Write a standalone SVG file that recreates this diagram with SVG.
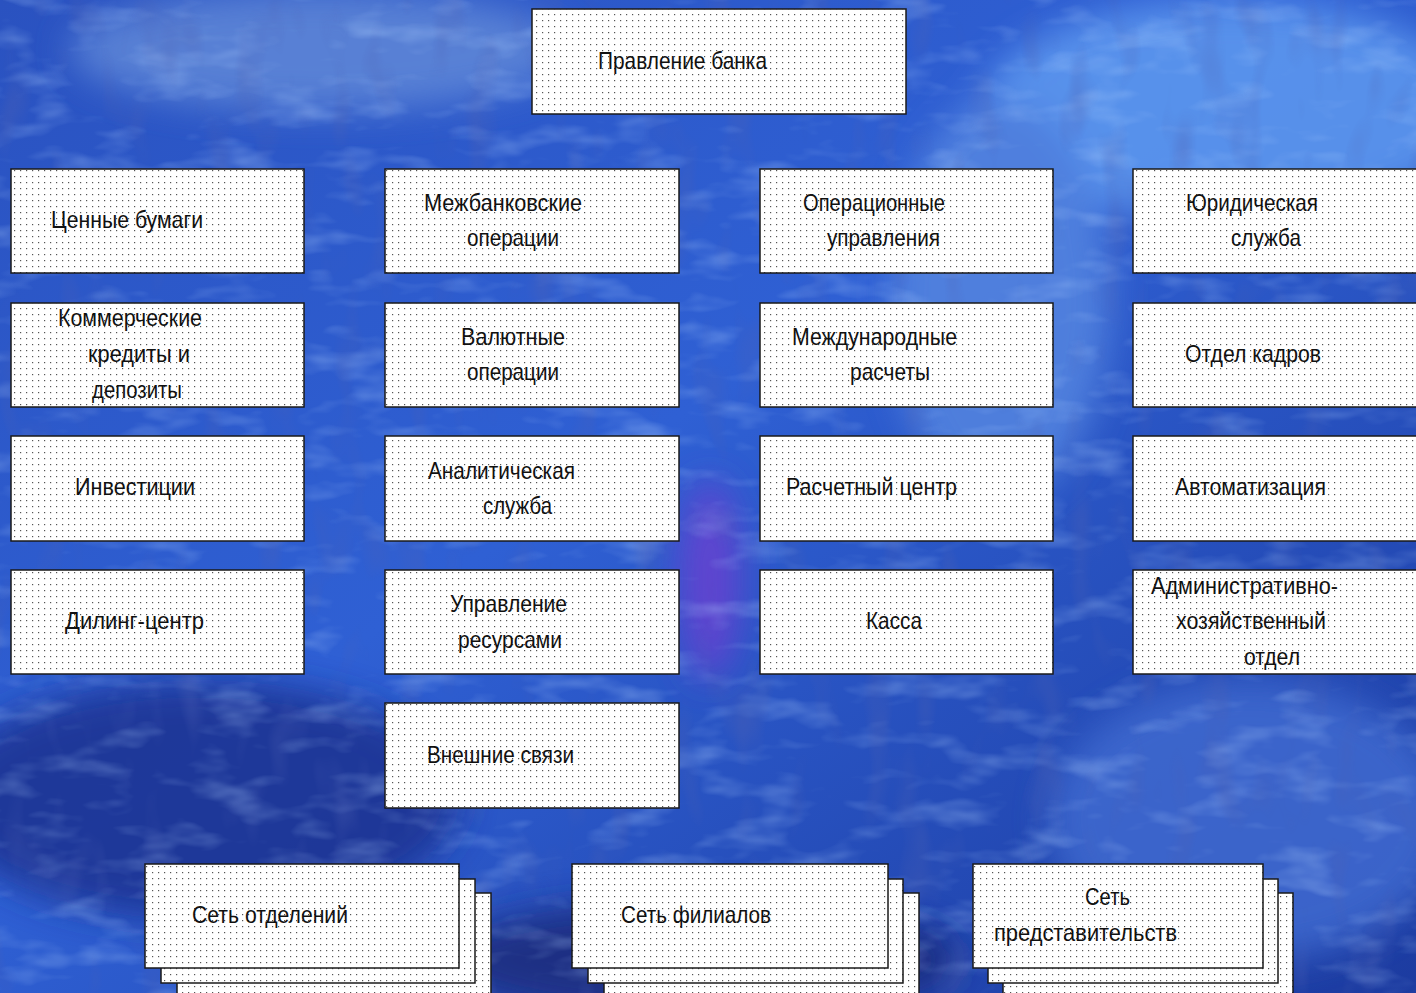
<svg xmlns="http://www.w3.org/2000/svg" width="1416" height="993" viewBox="0 0 1416 993">
<defs>
<linearGradient id="bg" x1="0" y1="0" x2="1" y2="1">
<stop offset="0" stop-color="#2a52c0"/>
<stop offset="0.45" stop-color="#2f60d4"/>
<stop offset="1" stop-color="#1c3ba0"/>
</linearGradient>
<filter id="blur" x="-20%" y="-20%" width="140%" height="140%"><feGaussianBlur stdDeviation="18"/></filter>
<filter id="tex" x="0" y="0" width="100%" height="100%">
<feTurbulence type="fractalNoise" baseFrequency="0.015 0.04" numOctaves="3" seed="7"/>
<feColorMatrix type="matrix" values="0 0 0 0 0.45  0 0 0 0 0.65  0 0 0 0 1  0 0 0 1.6 -0.8"/>
</filter>
<filter id="tex2" x="0" y="0" width="100%" height="100%">
<feTurbulence type="fractalNoise" baseFrequency="0.03 0.012" numOctaves="2" seed="3"/>
<feColorMatrix type="matrix" values="0 0 0 0 0.08  0 0 0 0 0.12  0 0 0 0 0.45  0 0 0 1.6 -0.85"/>
</filter>
<pattern id="dots" width="6" height="6" patternUnits="userSpaceOnUse">
<rect width="6" height="6" fill="#ffffff"/>
<rect x="2" y="2" width="1.2" height="1.2" fill="#555555"/>
</pattern>
<style>
.box{fill:url(#dots);stroke:#1a1a1a;stroke-width:1.5}
.t{font-family:"Liberation Sans",Arial,sans-serif;font-size:24px;fill:#111}
</style>
</defs>
<rect width="1416" height="993" fill="url(#bg)"/>
<g filter="url(#blur)" opacity="0.85">
<ellipse cx="1230" cy="110" rx="250" ry="110" fill="#5f9af0"/>
<ellipse cx="320" cy="50" rx="250" ry="60" fill="#6088d8"/>
<ellipse cx="1000" cy="300" rx="110" ry="200" fill="#5585e0"/>
<ellipse cx="710" cy="580" rx="30" ry="100" fill="#6a3fd0"/>
<ellipse cx="200" cy="800" rx="260" ry="120" fill="#1a3290"/>
<ellipse cx="1250" cy="820" rx="200" ry="140" fill="#3f6ad0"/>
<ellipse cx="700" cy="960" rx="260" ry="60" fill="#1c2a7a"/>
</g>
<rect width="1416" height="993" filter="url(#tex)" opacity="0.5"/>
<rect width="1416" height="993" filter="url(#tex2)" opacity="0.6"/>

<g id="n-pravlenie"><rect class="box" x="532" y="9" width="374" height="105"/><text class="t" x="598" y="69" textLength="169" lengthAdjust="spacingAndGlyphs">Правление банка</text></g>

<g id="n-cennye"><rect class="box" x="11" y="169" width="293" height="104"/><text class="t" x="51" y="228" textLength="152" lengthAdjust="spacingAndGlyphs">Ценные бумаги</text></g>
<g id="n-kommerch"><rect class="box" x="11" y="303" width="293" height="104"/>
<text class="t" x="58" y="326" textLength="144" lengthAdjust="spacingAndGlyphs">Коммерческие</text>
<text class="t" x="88" y="362" textLength="102" lengthAdjust="spacingAndGlyphs">кредиты и</text>
<text class="t" x="92" y="398" textLength="90" lengthAdjust="spacingAndGlyphs">депозиты</text></g>
<g id="n-invest"><rect class="box" x="11" y="436" width="293" height="105"/><text class="t" x="75" y="495" textLength="120" lengthAdjust="spacingAndGlyphs">Инвестиции</text></g>
<g id="n-diling"><rect class="box" x="11" y="570" width="293" height="104"/><text class="t" x="65" y="629" textLength="139" lengthAdjust="spacingAndGlyphs">Дилинг-центр</text></g>

<g id="n-mezhbank"><rect class="box" x="385" y="169" width="294" height="104"/>
<text class="t" x="424" y="211" textLength="158" lengthAdjust="spacingAndGlyphs">Межбанковские</text>
<text class="t" x="467" y="246" textLength="92" lengthAdjust="spacingAndGlyphs">операции</text></g>
<g id="n-valut"><rect class="box" x="385" y="303" width="294" height="104"/>
<text class="t" x="461" y="345" textLength="104" lengthAdjust="spacingAndGlyphs">Валютные</text>
<text class="t" x="467" y="380" textLength="92" lengthAdjust="spacingAndGlyphs">операции</text></g>
<g id="n-analit"><rect class="box" x="385" y="436" width="294" height="105"/>
<text class="t" x="428" y="479" textLength="147" lengthAdjust="spacingAndGlyphs">Аналитическая</text>
<text class="t" x="483" y="514" textLength="69" lengthAdjust="spacingAndGlyphs">служба</text></g>
<g id="n-upravres"><rect class="box" x="385" y="570" width="294" height="104"/>
<text class="t" x="450" y="612" textLength="117" lengthAdjust="spacingAndGlyphs">Управление</text>
<text class="t" x="458" y="648" textLength="104" lengthAdjust="spacingAndGlyphs">ресурсами</text></g>
<g id="n-vneshn"><rect class="box" x="385" y="703" width="294" height="105"/><text class="t" x="427" y="763" textLength="147" lengthAdjust="spacingAndGlyphs">Внешние связи</text></g>

<g id="n-operac"><rect class="box" x="760" y="169" width="293" height="104"/>
<text class="t" x="803" y="211" textLength="142" lengthAdjust="spacingAndGlyphs">Операционные</text>
<text class="t" x="827" y="246" textLength="113" lengthAdjust="spacingAndGlyphs">управления</text></g>
<g id="n-mezhdun"><rect class="box" x="760" y="303" width="293" height="104"/>
<text class="t" x="792" y="345" textLength="165" lengthAdjust="spacingAndGlyphs">Международные</text>
<text class="t" x="850" y="380" textLength="80" lengthAdjust="spacingAndGlyphs">расчеты</text></g>
<g id="n-raschet"><rect class="box" x="760" y="436" width="293" height="105"/><text class="t" x="786" y="495" textLength="171" lengthAdjust="spacingAndGlyphs">Расчетный центр</text></g>
<g id="n-kassa"><rect class="box" x="760" y="570" width="293" height="104"/><text class="t" x="866" y="629" textLength="56" lengthAdjust="spacingAndGlyphs">Касса</text></g>

<g id="n-yurid"><rect class="box" x="1133" y="169" width="300" height="104"/>
<text class="t" x="1186" y="211" textLength="132" lengthAdjust="spacingAndGlyphs">Юридическая</text>
<text class="t" x="1231" y="246" textLength="70" lengthAdjust="spacingAndGlyphs">служба</text></g>
<g id="n-kadry"><rect class="box" x="1133" y="303" width="300" height="104"/><text class="t" x="1185" y="362" textLength="136" lengthAdjust="spacingAndGlyphs">Отдел кадров</text></g>
<g id="n-avtomat"><rect class="box" x="1133" y="436" width="300" height="105"/><text class="t" x="1175" y="495" textLength="151" lengthAdjust="spacingAndGlyphs">Автоматизация</text></g>
<g id="n-admin"><rect class="box" x="1133" y="570" width="300" height="104"/>
<text class="t" x="1151" y="594" textLength="187" lengthAdjust="spacingAndGlyphs">Административно-</text>
<text class="t" x="1176" y="629" textLength="150" lengthAdjust="spacingAndGlyphs">хозяйственный</text>
<text class="t" x="1244" y="665" textLength="56" lengthAdjust="spacingAndGlyphs">отдел</text></g>

<g id="n-otdeleniya">
<rect class="box" x="177" y="893" width="314" height="110"/>
<rect class="box" x="161" y="879" width="314" height="104"/>
<rect class="box" x="145" y="864" width="314" height="104"/>
<text class="t" x="192" y="923" textLength="156" lengthAdjust="spacingAndGlyphs">Сеть отделений</text></g>
<g id="n-filialy">
<rect class="box" x="604" y="893" width="315" height="110"/>
<rect class="box" x="588" y="879" width="315" height="104"/>
<rect class="box" x="572" y="864" width="316" height="104"/>
<text class="t" x="621" y="923" textLength="150" lengthAdjust="spacingAndGlyphs">Сеть филиалов</text></g>
<g id="n-predstav">
<rect class="box" x="1003" y="893" width="290" height="110"/>
<rect class="box" x="988" y="879" width="290" height="104"/>
<rect class="box" x="973" y="864" width="290" height="104"/>
<text class="t" x="1085" y="905" textLength="45" lengthAdjust="spacingAndGlyphs">Сеть</text>
<text class="t" x="994" y="941" textLength="183" lengthAdjust="spacingAndGlyphs">представительств</text></g>

<g id="connectors"></g>
</svg>
